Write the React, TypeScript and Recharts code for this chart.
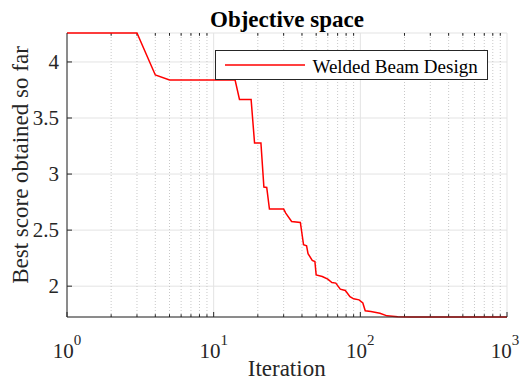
import { LineChart, Line, XAxis, YAxis, CartesianGrid, ReferenceLine, Label } from 'recharts';

const SERIES_NAME = 'Welded Beam Design';

// best score per iteration (only the points where the curve changes slope)
const iterations = [
  1, 3, 4, 5, 14, 15, 18, 19, 21, 22, 23, 24, 30, 31, 34, 39, 41, 43, 44, 47,
  49, 50, 55, 60, 64, 68, 73, 79, 85, 90, 98, 104, 108, 118, 136, 152, 180, 220, 1000,
];
const bestScores = [
  4.2583, 4.2583, 3.884, 3.839, 3.839, 3.665, 3.665, 3.277, 3.277, 2.884, 2.88, 2.688,
  2.688, 2.652, 2.577, 2.568, 2.369, 2.36, 2.29, 2.23, 2.22, 2.1, 2.086, 2.063, 2.033,
  2.027, 1.973, 1.961, 1.907, 1.887, 1.878, 1.85, 1.78, 1.773, 1.759, 1.735, 1.727,
  1.7249, 1.7249,
];

const xTicks = [1, 10, 100, 1000];
const xExponents = ['0', '1', '2', '3'];
const xMinorTicks = [2, 3, 4, 5, 6, 7, 8, 9, 20, 30, 40, 50, 60, 70, 80, 90, 200, 300, 400, 500, 600, 700, 800, 900];
const yTicks = [2, 2.5, 3, 3.5, 4];
const yLabels = ['2', '2.5', '3', '3.5', '4'];

const Y_MIN = 1.7249;
const Y_MAX = 4.2583;
const MINOR_TICK = 0.025;

const FONT = '"Liberation Serif", "Times New Roman", serif';
const AXIS = '#262626';
const RED = '#ff0000';

const data = iterations.map((it, i) => ({ iter: it, score: bestScores[i] }));

const XTick = ({ x, y, payload }: any) => {
  const i = xTicks.indexOf(payload.value);
  return (
    <text x={x} y={y + 44} textAnchor="middle" style={{ fontFamily: FONT, fontSize: 21 }} fill={AXIS}>
      <tspan>10</tspan>
      <tspan dy={-13} style={{ fontSize: 15 }}>{xExponents[i]}</tspan>
    </text>
  );
};

const YTick = ({ x, y, payload }: any) => (
  <text x={x} y={y} dy={7} textAnchor="end" style={{ fontFamily: FONT, fontSize: 21 }} fill={AXIS}>
    {yLabels[yTicks.indexOf(payload.value)]}
  </text>
);

const Empty = () => <g />;

export default function App() {
  return (
    <div style={{ position: 'absolute', left: 0, top: 0, width: 521, height: 381, background: '#fff' }}>
      <LineChart width={521} height={381} data={data} margin={{ top: 33, right: 14, left: 0, bottom: 0 }}>
        <CartesianGrid xAxisId="b" yAxisId="l" stroke="#e3e3e3" strokeWidth={1} />
        {xMinorTicks.map((v) => (
          <ReferenceLine key={`g-${v}`} xAxisId="b" yAxisId="l" x={v} stroke="#c8c8c8" strokeDasharray="1 2" />
        ))}
        {xMinorTicks.map((v) => (
          <ReferenceLine
            key={`tb-${v}`}
            xAxisId="b"
            yAxisId="l"
            segment={[{ x: v, y: Y_MIN }, { x: v, y: Y_MIN + MINOR_TICK }]}
            stroke={AXIS}
          />
        ))}
        {xMinorTicks.map((v) => (
          <ReferenceLine
            key={`tt-${v}`}
            xAxisId="b"
            yAxisId="l"
            segment={[{ x: v, y: Y_MAX }, { x: v, y: Y_MAX - MINOR_TICK }]}
            stroke={AXIS}
          />
        ))}
        <XAxis
          xAxisId="b"
          dataKey="iter"
          type="number"
          scale="log"
          domain={[1, 1000]}
          ticks={xTicks}
          height={64}
          tickSize={-5}
          tickMargin={2}
          tick={<XTick />}
          stroke={AXIS}
        >
          <Label
            content={() => (
              <g>
                <text x={286.7} y={376} textAnchor="middle" style={{ fontFamily: FONT, fontSize: 23 }} fill={AXIS}>
                  Iteration
                </text>
                <text
                  x={287}
                  y={26.7}
                  textAnchor="middle"
                  style={{ fontFamily: FONT, fontSize: 23, fontWeight: 'bold' }}
                  fill="#000"
                >
                  Objective space
                </text>
              </g>
            )}
          />
        </XAxis>
        <XAxis
          xAxisId="t"
          orientation="top"
          type="number"
          scale="log"
          domain={[1, 1000]}
          ticks={xTicks}
          height={0}
          tickSize={-5}
          tick={<Empty />}
          stroke={AXIS}
        />
        <YAxis
          yAxisId="l"
          type="number"
          domain={[Y_MIN, Y_MAX]}
          ticks={yTicks}
          width={67}
          tickSize={-5}
          tickMargin={13}
          tick={<YTick />}
          stroke={AXIS}
        >
          <Label
            content={() => (
              <text
                x={0}
                y={0}
                transform="translate(27.5,165) rotate(-90)"
                textAnchor="middle"
                style={{ fontFamily: FONT, fontSize: 23 }}
                fill={AXIS}
              >
                Best score obtained so far
              </text>
            )}
          />
        </YAxis>
        <YAxis
          yAxisId="r"
          orientation="right"
          type="number"
          domain={[Y_MIN, Y_MAX]}
          ticks={yTicks}
          width={0}
          tickSize={-5}
          tick={<Empty />}
          stroke={AXIS}
        />
        <Line
          xAxisId="b"
          yAxisId="l"
          type="linear"
          dataKey="score"
          name={SERIES_NAME}
          stroke={RED}
          strokeWidth={1.5}
          dot={false}
          isAnimationActive={false}
        />
      </LineChart>
      <div
        style={{
          position: 'absolute',
          left: 215,
          top: 50,
          width: 271,
          height: 28,
          border: `1px solid ${AXIS}`,
          background: '#fff',
        }}
      >
        <svg width={271} height={28} style={{ position: 'absolute', left: 0, top: 0 }}>
          <line x1={9} x2={89} y1={14} y2={14} stroke={RED} strokeWidth={1.5} />
          <text x={96.5} y={21.5} style={{ fontFamily: FONT, fontSize: 19 }} fill="#000">
            {SERIES_NAME}
          </text>
        </svg>
      </div>
    </div>
  );
}
